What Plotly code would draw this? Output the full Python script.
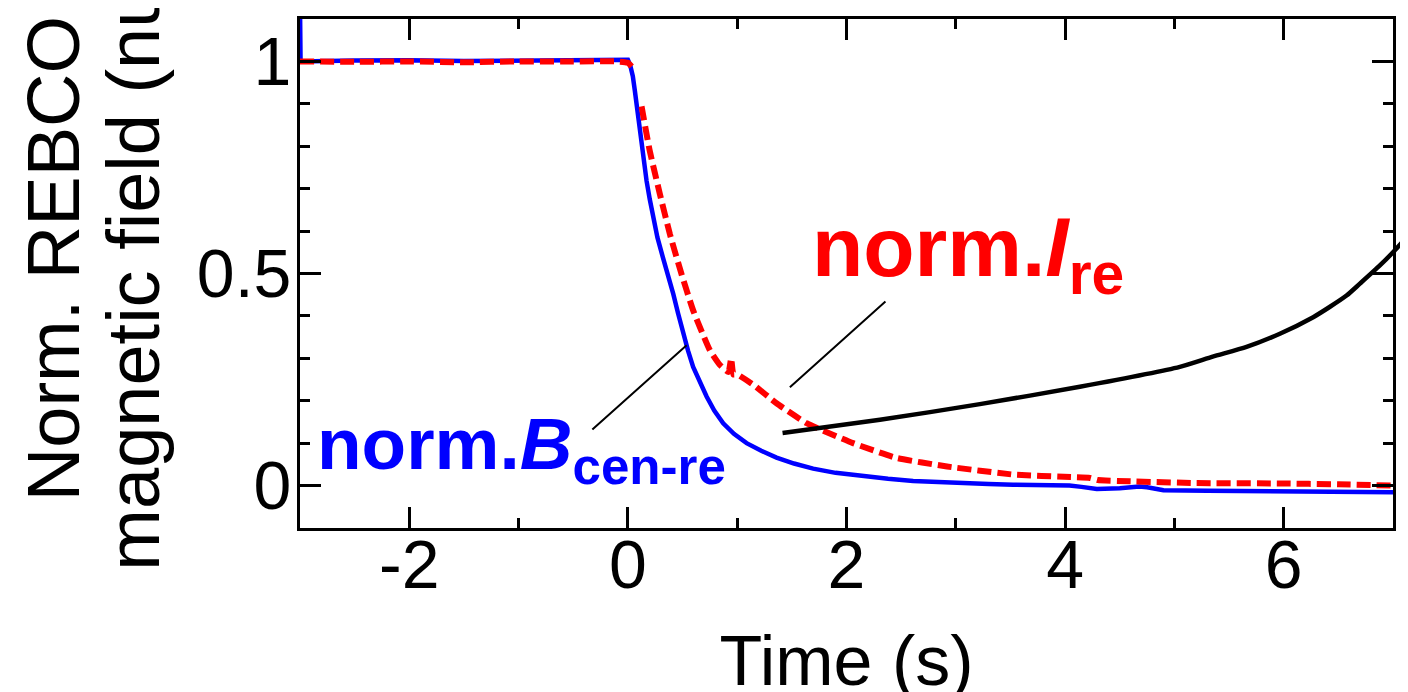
import plotly.graph_objects as go

# ---- data ----
t_blue = [-3.0, -2.995, -2.5, -2.0, -1.5, -1.0, -0.5, -0.2, -0.05, 0.0, 0.02, 0.045, 0.064, 0.09,
          0.11, 0.14, 0.171, 0.2, 0.23, 0.27, 0.32, 0.37, 0.415, 0.46, 0.506, 0.55, 0.597, 0.66,
          0.72, 0.79, 0.872, 0.97, 1.086, 1.22, 1.36, 1.52, 1.695, 1.9, 2.15, 2.38, 2.61, 2.85,
          3.07, 3.3, 3.525, 3.8, 4.04, 4.15, 4.29, 4.5, 4.68, 4.75, 4.9, 5.3, 5.965, 6.5, 7.0]
b_cen_re = [1.13, 1.0, 1.002, 1.003, 1.001, 1.002, 1.003, 1.004, 1.006, 1.004, 0.992, 0.965, 0.93,
            0.875, 0.829, 0.772, 0.718, 0.675, 0.632, 0.585, 0.538, 0.494, 0.452, 0.405, 0.358,
            0.318, 0.28, 0.242, 0.21, 0.177, 0.147, 0.122, 0.1, 0.082, 0.066, 0.052, 0.04, 0.03,
            0.022, 0.016, 0.011, 0.008, 0.005, 0.004, 0.002, 0.001, 0.0, -0.003, -0.008, -0.006,
            -0.002, -0.004, -0.011, -0.012, -0.013, -0.015, -0.016]

t_red = [-3.0, -2.5, -2.0, -1.5, -1.0, -0.5, -0.1, 0.0, 0.034, None, 0.125, 0.2, 0.293, 0.384,
         0.49, 0.597, 0.75, 0.84, 0.92, 0.945, 0.965, 1.0, 1.146, 1.36, 1.635, 2.06, 2.46, 2.92,
         3.525, 4.05, 4.227, 4.3, 4.59, 5.2, 5.965, 6.5, 7.0]
i_re = [1.0, 0.999, 1.0, 0.998, 1.0, 1.0, 1.0, 0.997, 0.988, None, 0.894, 0.789, 0.687, 0.593,
        0.499, 0.413, 0.319, 0.285, 0.268, 0.30, 0.262, 0.262, 0.238, 0.194, 0.147, 0.100, 0.065,
        0.045, 0.026, 0.02, 0.018, 0.013, 0.010, 0.006, 0.005, 0.003, 0.0]

t_black = [1.415, 2.306, 3.22, 4.135, 5.05, 5.35, 5.66, 5.965, 6.27, 6.42, 6.575, 6.697, 6.88, 7.0, 7.137]
black = [0.124, 0.155, 0.192, 0.233, 0.280, 0.304, 0.327, 0.358, 0.397, 0.421, 0.448, 0.476, 0.519, 0.55, 0.589]

x_ticks = [-2, 0, 2, 4, 6]
x_ticktext = ["-2", "0", "2", "4", "6"]
y_ticks = [0, 0.5, 1]
y_ticktext = ["0", "0.5", "1"]

# leader lines (tail -> head) in data units
red_leader = [(2.37, 0.437), (1.482, 0.232)]
blue_leader = [(-0.339, 0.129), (0.537, 0.331)]

FONT = "Liberation Sans, Arial, sans-serif"

fig = go.Figure()
fig.add_trace(go.Scatter(x=t_blue, y=b_cen_re, mode="lines",
                         line=dict(color="#0000FF", width=4.5),
                         xaxis="x", yaxis="y"))
fig.add_trace(go.Scatter(x=t_red, y=i_re, mode="lines", connectgaps=False,
                         line=dict(color="#FF0000", width=6, dash="14px,6px", shape="spline", smoothing=0.4),
                         xaxis="x", yaxis="y"))
fig.add_trace(go.Scatter(x=t_black, y=black, mode="lines",
                         line=dict(color="black", width=4.5, shape="spline", smoothing=0.6),
                         xaxis="x2", yaxis="y2"))

axis_common = dict(showline=True, linewidth=3, linecolor="black", mirror="ticks",
                   ticks="inside", ticklen=21, tickwidth=3, tickcolor="black",
                   showgrid=False, zeroline=False,
                   tickfont=dict(family=FONT, size=68, color="black"))

plot_w = 1400 - 292
frame_w = 1093
fig.update_layout(
    width=1408, height=692,
    margin=dict(l=292, r=8, t=9, b=172, pad=0),
    paper_bgcolor="white", plot_bgcolor="rgba(0,0,0,0)",
    showlegend=False,
    xaxis=dict(domain=[0, frame_w / plot_w], range=[-3, 7], tickvals=x_ticks, ticktext=x_ticktext,
               minor=dict(ticks="inside", ticklen=10, tickwidth=3, tickcolor="black", dtick=1, tick0=0),
               title=dict(text="Time (s)", font=dict(family=FONT, size=70, color="black"), standoff=38),
               ticklabelstandoff=-25, anchor="y", **axis_common),
    yaxis=dict(domain=[0, 1], range=[-0.1, 1.1], tickvals=y_ticks, ticktext=y_ticktext,
               minor=dict(ticks="inside", ticklen=10, tickwidth=3, tickcolor="black", dtick=0.1, tick0=0),
               ticklabelstandoff=-8, anchor="x", **axis_common),
    xaxis2=dict(domain=[0, 1], range=[-3, -3 + 10 * plot_w / frame_w], visible=False, anchor="y2"),
    yaxis2=dict(domain=[0, 1], range=[-0.1, 1.1], visible=False, anchor="x2"),
)

# leader lines
for (tail, head) in (red_leader, blue_leader):
    fig.add_annotation(x=head[0], y=head[1], ax=tail[0], ay=tail[1], xref="x", yref="y",
                       axref="x", ayref="y", text="", showarrow=True, arrowhead=0,
                       arrowwidth=2, arrowcolor="black", standoff=0, startstandoff=0)

fig.add_annotation(x=1.664, y=0.418, xref="x", yref="y", xanchor="left", yanchor="bottom",
                   text="<b>norm.<i>I</i><sub>re</sub></b>", showarrow=False,
                   font=dict(family=FONT, size=84, color="#FF0000"))
fig.add_annotation(x=-2.864, y=-0.026, xref="x", yref="y", xanchor="left", yanchor="bottom",
                   text="<b>norm.<i>B</i><sub>cen-re</sub></b>", showarrow=False,
                   font=dict(family=FONT, size=73, color="#0000FF"))

# y-axis title (two lines, rotated)
fig.add_annotation(x=-0.223, y=0.530, xref="paper", yref="paper", xanchor="center", yanchor="middle",
                   text="Norm. REBCO", textangle=-90, showarrow=False,
                   font=dict(family=FONT, size=74, color="black"))
fig.add_annotation(x=-0.150, y=0.515, xref="paper", yref="paper", xanchor="center", yanchor="middle",
                   text="magnetic field (nu)", textangle=-90, showarrow=False,
                   font=dict(family=FONT, size=74, color="black"))

fig.write_html("out.html")
